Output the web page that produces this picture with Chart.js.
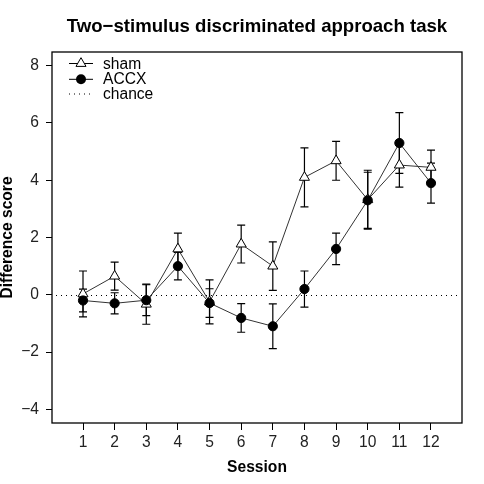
<!DOCTYPE html>
<html>
<head>
<meta charset="utf-8">
<script src="https://cdn.jsdelivr.net/npm/chart.js@4/dist/chart.umd.min.js"></script>
<style>
  html, body { margin: 0; padding: 0; background: #fff; }
  #c { display: block; }
</style>
</head>
<body>
<canvas id="c" width="484" height="484"></canvas>
<script>
// ---- data ----
const sessions = [1, 2, 3, 4, 5, 6, 7, 8, 9, 10, 11, 12];
const shamMean = [0.03, 0.65, -0.33, 1.6, -0.25, 1.77, 1.0, 4.1, 4.68, 3.32, 4.53, 4.45];
const shamErr  = [0.8, 0.49, 0.7, 0.55, 0.77, 0.66, 0.85, 1.03, 0.68, 1.03, 0.77, 0.6];
const accxMean = [-0.2, -0.3, -0.19, 1.0, -0.29, -0.81, -1.1, 0.2, 1.6, 3.3, 5.3, 3.9];
const accxErr  = [0.4, 0.37, 0.54, 0.48, 0.5, 0.5, 0.78, 0.63, 0.55, 0.98, 1.06, 0.7];
const yTicks = [-4, -2, 0, 2, 4, 6, 8];
const chanceLevel = 0;
const titleText = "Two\u2212stimulus discriminated approach task";
const xTitle = "Session";
const yTitle = "Difference score";
const legendLabels = ["sham", "ACCX", "chance"];

const FONT = '"Liberation Sans", Arial, Helvetica, sans-serif';

const toPts = (xs, ys) => xs.map((x, i) => ({ x: x, y: ys[i] }));

const errorBarPlugin = {
  id: 'errbars',
  beforeDatasetsDraw(chart) {
    const ctx = chart.ctx;
    const xs = chart.scales.x, ys = chart.scales.y;
    const area = chart.chartArea;
    // chance line
    ctx.save();
    ctx.strokeStyle = '#000';
    ctx.lineWidth = 1;
    ctx.setLineDash([1, 4]);
    const yc = Math.round(ys.getPixelForValue(chanceLevel)) + 0.5;
    ctx.beginPath();
    ctx.moveTo(area.left + 4, yc);
    ctx.lineTo(area.right - 3, yc);
    ctx.stroke();
    ctx.restore();
    // error bars
    const drawBars = (means, errs) => {
      ctx.save();
      ctx.strokeStyle = '#000';
      ctx.lineWidth = 1.2;
      sessions.forEach((s, i) => {
        const x = xs.getPixelForValue(s);
        const yt = ys.getPixelForValue(means[i] + errs[i]);
        const yb = ys.getPixelForValue(means[i] - errs[i]);
        ctx.beginPath();
        ctx.moveTo(x, yt); ctx.lineTo(x, yb);
        ctx.moveTo(x - 4, yt); ctx.lineTo(x + 4, yt);
        ctx.moveTo(x - 4, yb); ctx.lineTo(x + 4, yb);
        ctx.stroke();
      });
      ctx.restore();
    };
    drawBars(shamMean, shamErr);
    drawBars(accxMean, accxErr);
  },
  afterDraw(chart) {
    const ctx = chart.ctx;
    const a = chart.chartArea;
    ctx.save();
    // box
    ctx.strokeStyle = '#000';
    ctx.lineWidth = 1.3;
    ctx.strokeRect(a.left, a.top, a.right - a.left, a.bottom - a.top);
    // title
    ctx.fillStyle = '#000';
    ctx.textAlign = 'center';
    ctx.textBaseline = 'alphabetic';
    ctx.font = 'bold 18.6px ' + FONT;
    ctx.fillText(titleText, (a.left + a.right) / 2, 32);
    // x title
    ctx.font = 'bold 15.6px ' + FONT;
    ctx.fillText(xTitle, (a.left + a.right) / 2, 472);
    // y title
    ctx.save();
    ctx.translate(12, (a.top + a.bottom) / 2);
    ctx.rotate(-Math.PI / 2);
    ctx.fillText(yTitle, 0, 0);
    ctx.restore();
    // legend
    const lx0 = 69, lx1 = 93, lxc = 81, tx = 103;
    const rows = [63.5, 79.3, 93.5];
    ctx.strokeStyle = '#000';
    ctx.lineWidth = 1;
    // sham row
    ctx.beginPath(); ctx.moveTo(lx0, rows[0]); ctx.lineTo(lx1, rows[0]); ctx.stroke();
    const r = 5.8;
    ctx.beginPath();
    ctx.moveTo(lxc, rows[0] - r);
    ctx.lineTo(lxc + r * Math.sin(2 * Math.PI / 3), rows[0] + r / 2);
    ctx.lineTo(lxc - r * Math.sin(2 * Math.PI / 3), rows[0] + r / 2);
    ctx.closePath();
    ctx.fillStyle = '#fff'; ctx.fill(); ctx.stroke();
    // accx row
    ctx.beginPath(); ctx.moveTo(lx0, rows[1]); ctx.lineTo(lx1, rows[1]); ctx.stroke();
    ctx.beginPath(); ctx.arc(lxc, rows[1], 5, 0, Math.PI * 2);
    ctx.fillStyle = '#000'; ctx.fill();
    // chance row
    ctx.setLineDash([1, 4]);
    ctx.beginPath(); ctx.moveTo(lx0, rows[2] + 0.5); ctx.lineTo(lx1, rows[2] + 0.5); ctx.stroke();
    ctx.setLineDash([]);
    ctx.fillStyle = '#000';
    ctx.textAlign = 'left';
    ctx.font = '15.6px ' + FONT;
    ctx.fillText(legendLabels[0], tx, 68.5);
    ctx.fillText(legendLabels[1], tx, 84);
    ctx.fillText(legendLabels[2], tx, 99.3);
    ctx.restore();
  }
};

new Chart(document.getElementById('c'), {
  type: 'line',
  data: {
    datasets: [
      {
        label: 'ACCX',
        data: toPts(sessions, accxMean),
        borderColor: '#333',
        borderWidth: 1,
        pointStyle: 'circle',
        pointRadius: 4.6,
        pointBackgroundColor: '#000',
        pointBorderColor: '#000',
        pointBorderWidth: 1,
        tension: 0,
        fill: false
      },
      {
        label: 'sham',
        data: toPts(sessions, shamMean),
        borderColor: '#333',
        borderWidth: 1,
        pointStyle: 'triangle',
        pointRadius: 5.8,
        pointBackgroundColor: '#fff',
        pointBorderColor: '#000',
        pointBorderWidth: 1,
        tension: 0,
        fill: false
      }
    ]
  },
  options: {
    responsive: false,
    animation: false,
    devicePixelRatio: 1,
    layout: { padding: { left: 0, top: 52, right: 22, bottom: 0 } },
    plugins: {
      legend: { display: false },
      title: { display: false },
      tooltip: { enabled: false }
    },
    scales: {
      x: {
        type: 'linear',
        min: 0.02,
        max: 12.98,
        afterBuildTicks: (s) => { s.ticks = sessions.map(v => ({ value: v })); },
        afterFit: (s) => { s.height = 61; },
        grid: { drawOnChartArea: false, drawTicks: true, tickLength: 7, color: '#000', lineWidth: 1 },
        border: { display: false },
        ticks: {
          color: '#222',
          font: { family: FONT, size: 15.6 },
          padding: 3,
          maxRotation: 0,
          autoSkip: false,
          callback: (v) => String(v)
        }
      },
      y: {
        type: 'linear',
        min: -4.48,
        max: 8.48,
        afterBuildTicks: (s) => { s.ticks = yTicks.map(v => ({ value: v })); },
        afterFit: (s) => { s.width = 52; },
        grid: { drawOnChartArea: false, drawTicks: true, tickLength: 6, color: '#000', lineWidth: 1 },
        border: { display: false },
        ticks: {
          color: '#222',
          font: { family: FONT, size: 15.6 },
          padding: 7,
          autoSkip: false,
          callback: (v) => v < 0 ? '\u2212' + Math.abs(v) : String(v)
        }
      }
    }
  },
  plugins: [errorBarPlugin]
});
</script>
</body>
</html>
